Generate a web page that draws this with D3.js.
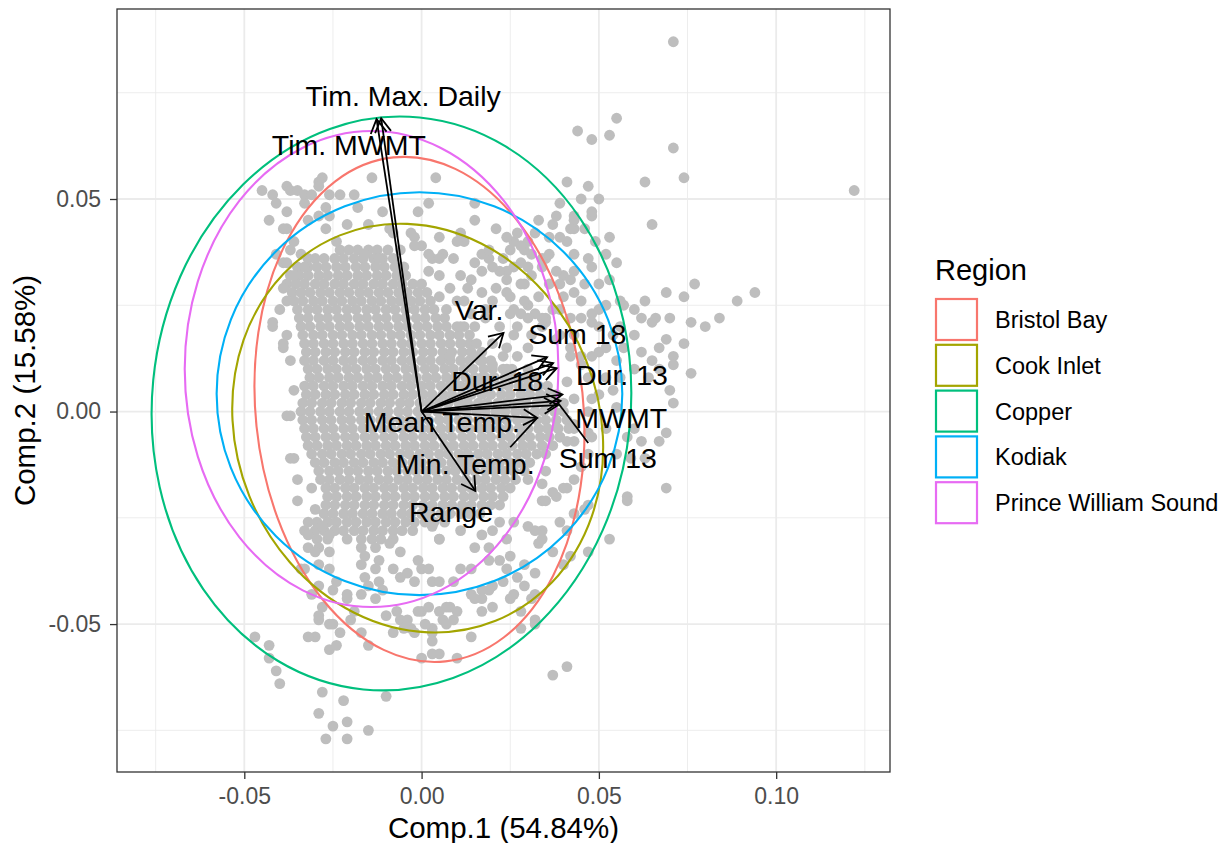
<!DOCTYPE html>
<html>
<head>
<meta charset="utf-8">
<script src="https://cdn.jsdelivr.net/npm/d3@7"></script>
<style>
body { margin: 0; background: #fff; }
svg text { font-family: "Liberation Sans", Arial, sans-serif; }
</style>
</head>
<body>
<svg id="chart" width="1227" height="843"></svg>
<script>
// PCA scores, in thousandths (Comp.1, Comp.2)
// dense part of the cloud, one row per Comp.2 value: [comp2, [comp1 ...]]
var denseRows = [
  [38, [-23,-20.5,-18,-15,-12.5,-9.5]],
  [36, [-30,-27.5,-24.5,-22,-19,-16.5,-13.5,-11,-8]],
  [34, [-35,-32,-29.5,-27,-24,-21.5,-18.5,-16,-13,-10.5,-7.5,-5]],
  [32, [-37,-34.5,-32,-29,-26.5,-23.5,-21,-18,-15.5,-12.5,-10,-7,-4.5]],
  [30, [-38,-35.5,-33,-30,-27.5,-24.5,-22,-19,-16.5,-13.5,-11,-8,-5.5,-2.5,0]],
  [28, [-36.5,-34,-31.5,-28.5,-26,-23,-20.5,-17.5,-15,-12,-9.5,-6.5,-4,-1,1.5]],
  [26, [-36,-33.5,-30.5,-28,-25,-22.5,-19.5,-17,-14,-11.5,-8.5,-6,-3,-0.5,2.5]],
  [24, [-35,-32,-29.5,-26.5,-24,-21,-18.5,-15.5,-13,-10,-7.5,-4.5,-2,1,3.5]],
  [22, [-34.5,-32,-29,-26.5,-23.5,-21,-18,-15.5,-12.5,-10,-7,-4.5,-1.5,1,4,6.5]],
  [20, [-34,-31.5,-28.5,-26,-23,-20.5,-17.5,-15,-12,-9.5,-6.5,-4,-1,1.5,4.5,7,10,12]],
  [18, [-33.5,-30.5,-28,-25,-22.5,-19.5,-17,-14,-11.5,-8.5,-6,-3,-0.5,2.5,5,8,10.5,13.5]],
  [16, [-33,-30.5,-27.5,-25,-22,-19.5,-16.5,-14,-11,-8.5,-5.5,-3,0,2.5,5.5,8,11,13.5,15.5]],
  [14, [-32.5,-30,-27,-24.5,-21.5,-19,-16,-13.5,-10.5,-8,-5,-2.5,0.5,3,6,8.5,11.5,14,17]],
  [12, [-33,-30.5,-27.5,-25,-22,-19.5,-16.5,-14,-11,-8.5,-5.5,-3,0,2.5,5.5,8,11,13.5,16.5,19.5]],
  [10, [-32,-29.5,-26.5,-24,-21,-18.5,-15.5,-13,-10,-7.5,-4.5,-2,1,3.5,6.5,9,12,14.5,17.5,20,23,25.5]],
  [8, [-31.5,-29,-26,-23.5,-20.5,-18,-15,-12.5,-9.5,-7,-4,-1.5,1.5,4,7,9.5,12.5,15,18,20.5,23.5,26,29,31.5]],
  [6, [-33,-30.5,-27.5,-25,-22,-19.5,-16.5,-14,-11,-8.5,-5.5,-3,0,2.5,5.5,8,11,13.5,16.5,19,22,24.5,27.5,30,33,35.5]],
  [4, [-32.5,-30,-27,-24.5,-21.5,-19,-16,-13.5,-10.5,-8,-5,-2.5,0.5,3,6,8.5,11.5,14,17,19.5,22.5,25,28,30.5,33.5,36,38]],
  [2, [-33.5,-31,-28,-25.5,-22.5,-20,-17,-14.5,-11.5,-9,-6,-3.5,-0.5,2,5,7.5,10.5,13,16,18.5,21.5,24,27,29.5,32.5,35,37.5,40]],
  [0, [-34,-31.5,-28.5,-26,-23,-20.5,-17.5,-15,-12,-9.5,-6.5,-4,-1,1.5,4.5,7,10,12.5,15.5,18,21,23.5,26.5,29,32,34.5,37.5,40]],
  [-2, [-33.5,-31,-28,-25.5,-22.5,-20,-17,-14.5,-11.5,-9,-6,-3.5,-0.5,2,5,7.5,10.5,13,16,18.5,21.5,24,27,29.5,32.5,35,38,41]],
  [-4, [-33,-30.5,-27.5,-25,-22,-19.5,-16.5,-14,-11,-8.5,-5.5,-3,0,2.5,5.5,8,11,13.5,16.5,19,22,24.5,27.5,30,33,35.5,38.5,41.5]],
  [-6, [-32.5,-30,-27,-24.5,-21.5,-19,-16,-13.5,-10.5,-8,-5,-2.5,0.5,3,6,8.5,11.5,14,17,19.5,22.5,25,28,30.5,33.5,36,39]],
  [-8, [-32,-29.5,-26.5,-24,-21,-18.5,-15.5,-13,-10,-7.5,-4.5,-2,1,3.5,6.5,9,12,14.5,17.5,20,23,25.5,28.5,31,34,37]],
  [-10, [-31,-28,-25.5,-22.5,-20,-17,-14.5,-11.5,-9,-6,-3.5,-0.5,2,5,7.5,10.5,13,16,18.5,21.5,24,27,29.5,32.5,35]],
  [-12, [-30,-27.5,-24.5,-22,-19,-16.5,-13.5,-11,-8,-5.5,-2.5,0,3,5.5,8.5,11,14,16.5,19.5,22,25,27.5,30.5]],
  [-14, [-29,-26,-23.5,-20.5,-18,-15,-12.5,-9.5,-7,-4,-1.5,1.5,4,7,9.5,12.5,15,18,20.5,23.5,26,29]],
  [-16, [-28.5,-26,-23,-20.5,-17.5,-15,-12,-9.5,-6.5,-4,-1,1.5,4.5,7,10,12.5,15.5,18,21,23.5,26.5]],
  [-18, [-27,-24.5,-21.5,-19,-16,-13.5,-10.5,-8,-5,-2.5,0.5,3,6,8.5,11.5,14,17,19.5,22.5,25]],
  [-20, [-26.5,-24,-21,-18.5,-15.5,-13,-10,-7.5,-4.5,-2,1,3.5,6.5,9,12,14.5,17.5,20,23]],
  [-22, [-27,-24.5,-21.5,-19,-16,-13.5,-10.5,-8,-5,-2.5,0.5,3,6,8.5,11.5,14,17,19.5,22]],
  [-24, [-27.5,-25,-22,-19.5,-16.5,-14,-11,-8.5,-5.5,-3,0,2.5,5.5,8,11,13.5,16.5]],
  [-26, [-32,-29.5,-26.5,-24,-21,-18.5,-15.5,-13,-10,-7.5,-4.5,-2,1,3.5,6.5]],
  [-28, [-33,-30,-27.5,-24.5,-22,-19,-16.5,-13.5,-11,-8,-5.5,-2.5]],
  [-30, [-29.5,-26.5,-21,-17,-14,-11.5,-8]]
];

// scattered points around the dense part: [comp1, comp2]
var loosePts = [
  [71,87],[55,69],[44,66],[48,64],[53,65],[71,62],[74,55],[63,54],[41,54],[122,52],[4,55],[39,49],
  [48,46],[43,45],[43,43],[65,44],[32,42],[36,41],[41,40],[49,40],[26,40],[25,38],[29,38],[35,36],
  [43,37],[28,35],[24,33],[40,32],[42,31],[29,30],[53,31],[24,28],[69,28],[74,27],[77,30],[89,26],
  [94,28],[52,25],[57,25],[48,23],[25,23],[28,23],[32,23],[35,22],[66,22],[62,22],[84,22],[76,21],
  [80,20],[69,17],[74,16],[76,9],[71,13],[65,12],[62,14],[55,12],[60,10],[54,18],[60,18],[50,14],
  [52,8],[56,8],[64,8],[67,10],[12,40],[11,42],[15,49],[15,45],[2,49],[-1,47],[-2,41],[5,41],
  [0,39],[3,36],[6,37],[15,35],[17,37],[22,33],[28,30],[30,34],[34,36],
  [-45,52],[-42,51],[-38,53],[-37,52],[-35,52],[-33,51],[-31,51],[-28,55],[-29,54],[-26,51],[-19,51],
  [-14,55],[-41,49],[-43,45],[-38,47],[-32,45],[-27,48],[-26,46],[-38,43],[-27,43],[-24,40],[-15,44],
  [-11,47],[-8,42],[-39,43],[-36,40],[-41,37],[-37,38],[-34,37],[-32,36],[-39,35],[-33,34],[-29,53],
  [-23,51],[-9,43],[-3,42],[-2,39],[-12,36],[-16,37],[-33,49],[-29,46],[-18,48],[-21,44],[-6,38],
  [10,40],[21,43],[31,37],[34,34],[31,32],[26,34],[20,34],[17,33],[11,32],[9,36],[5,36],[2,37],
  [2,33],[5,32],[19,36],[24,31],[21,29],[17,28],[13,29],[10,26],[5,27],[7,24],[20,26],[26,24],
  [30,25],[34,22],[37,24],[42,22],[43,28],[39,30],[43,33],[42,43],[43,46],[48,47],[47,36],[39,41],
  [36,37],[28,39],[24,41],[19,38],[47,53],[48,21],
  [18,22],[22,20],[26,18],[20,16],[17,12],[23,13],[27,20],[31,18],[29,26],[33,27],[36,30],[25,27],
  [18,24],[14,23],[12,26],[8,29],[14,31],[23,36],[27,42],[33,45],[30,40],[37,44],[38,33],[45,26],
  [40,27],[46,30],[50,30],[48,34],[52,37],[55,35],[53,41],[46,43],[50,50],[45,50],[38,46],
  [11,20],[15,20],[11,16],[8,13],[15,13],[24,15],[27,13],[30,15],[35,21],[39,18],[43,18],[45,13],
  [42,13],[30,10],[24,10],[20,11],[17,8],[47,8],[48,3],[47,0],[43,-4],[39,-6],[43,-7],[47,-5],
  [70,22],[65,21],[67,15],[71,11],[70,5],[71,2],[69,-5],[67,-7],[69,-18],[58,-20],[55,-10],[58,-6],
  [60,-4],[54,5],[55,1],[50,4],[52,-4],[48,-6],[47,-10],[45,-13],[43,-16],[40,-18],[37,-19],[34,-21],
  [34,-17],[35,-14],[41,-7],[43,-3],[43,3],[41,7],[45,11],[48,13],[52,15],[57,15],[42,15],[38,17],
  [34,20],[30,22],[39,24],[45,22],[50,24],[50,20],[56,20],[60,24],[63,26],[56,26],[62,-7],[63,-11],
  [59,-11],
  [53,-30],[47,-33],[35,-21],[38,-20],[41,-28],[46,-23],[41,-18],[34,-28],[30,-27],[33,-31],[37,-33],
  [40,-36],[32,-49],[28,-51],[41,-60],[37,-62],[14,-53],[10,-58],[3,-57],[0,-58],[3,-51],[22,-35],
  [19,-32],[25,-34],[17,-42],[14,-43],[10,-47],[8,-46],[6,-49],[0,-47],[-3,-51],[-6,-49],
  [30,-16],[32,-28],[34,-30],[26,-26],[22,-26],[20,-28],[24,-30],[15,-32],[17,-29],[11,-28],[5,-30],
  [3,-27],[39,-26],[43,-24],[47,-22],[42,-34],[58,-21],
  [-8,-37],[-6,-39],[-4,-38],[-2,-40],[0,-37],[-1,-35],[2,-37],[3,-40],[5,-40],[9,-40],[11,-37],
  [14,-37],[19,-35],[24,-37],[27,-39],[29,-41],[32,-43],[26,-43],[23,-40],[20,-41],[19,-42],[17,-44],
  [29,-36],[32,-38],
  [-10,-48],[-7,-47],[-4,-49],[-1,-47],[2,-46],[5,-47],[7,-46],[7,-50],[3,-52],[1,-50],[-5,-51],
  [-8,-52],[-2,-52],[3,-54],[9,-49],[15,-44],[17,-47],[20,-46],[25,-44],[28,-47],[31,-44],[32,-50],
  [5,-57],
  [-17,-32],[-13,-32],[-16,-34],[-12,-35],[-17,-36],[-13,-37],[-16,-39],[-12,-40],[-15,-41],[-11,-42],
  [-13,-44],[-17,-43],[-9,-31],[-6,-33],[5,-30],
  [-31,-43],[-28,-46],[-29,-49],[-26,-50],[-30,-53],[-23,-52],[-20,-49],[-19,-47],[-21,-44],[-17,-52],
  [-15,-55],[-32,-32],[-29,-32],[-33,-37],[-29,-36],[-26,-37],[-24,-40],[-25,-42],
  [-38,-1],[-36,-11],[-35,-16],[-31,-18],[-35,-21],[-30,-23],[-32,-29],[-28,-27],[-26,-29],[-30,-33],
  [-26,-33],[-34,-37],[-29,-41],[-21,-43],[-29,-48],[-25,-50],[-32,-53],[-26,-56],[-24,-55],
  [-47,-53],[-43,-55],[-43,-58],[-41,-61],[-40,-64],[-28,-66],[-22,-68],[-10,-67],[-29,-71],[-25,-74],
  [-21,-73],[-27,-77],[-21,-77],[-15,-75],
  [-42,21],[-38,18],[-39,15],[-37,12],[-38,26],[-39,29],[-36,32],[-38,35],[-37,-1],[-37,-11],[-36,5],
  [-40,24],[-42,20],[-39,16]
];

var regions = ["Bristol Bay", "Cook Inlet", "Copper", "Kodiak", "Prince William Sound"];
var regionColors = ["#F8766D", "#A3A500", "#00BF7D", "#00B0F6", "#E76BF3"];
// normal ellipses: centre, semi axes, tilt in degrees
var ellCx = [-0.0006, -0.0011, -0.0085, -0.0006, -0.0141];
var ellCy = [0.0005, -0.0039, 0.0019, 0.0042, 0.0100];
var ellA = [0.0462, 0.0512, 0.0675, 0.0572, 0.0527];
var ellB = [0.0596, 0.0489, 0.0676, 0.0474, 0.0560];
var ellTilt = [-5.9, -22, 5.6, 0, 0];

var varNames = ["Tim. Max. Daily", "Tim. MWMT", "Var.", "Sum 18", "Dur. 18", "Dur. 13",
                "MWMT", "Mean Temp.", "Min. Temp.", "Sum 13", "Range"];
var loadX = [-0.0127, -0.0114, 0.0231, 0.0354, 0.0371, 0.0381, 0.0397, 0.0326, 0.0392, 0.0385, 0.0152];
var loadY = [0.0688, 0.0690, 0.0185, 0.0128, 0.0114, 0.0102, 0.0040, -0.0015, 0.0025, 0.0015, -0.0187];
var labelX = [-0.0052, -0.0205, 0.0162, 0.0439, 0.0213, 0.0565, 0.0563, 0.0057, 0.0123, 0.0525, 0.0083];
var labelY = [0.0742, 0.0627, 0.0240, 0.0182, 0.0072, 0.0086, -0.0015, -0.0025, -0.0124, -0.0109, -0.0236];
// two short stray strokes next to the arrow heads
var extraSegs = [[0.0250, -0.0084, 0.0326, -0.0015], [0.0385, 0.0020, 0.0470, -0.0074]];

var xTicks = [-0.05, 0, 0.05, 0.10];
var yTicks = [-0.05, 0, 0.05];
var xMinor = [-0.075, -0.025, 0.025, 0.075, 0.125];
var yMinor = [-0.075, -0.025, 0.025, 0.075];

var scores = [];
denseRows.forEach(function(r) {
  r[1].forEach(function(v) { scores.push([v / 1000, r[0] / 1000]); });
});
loosePts.forEach(function(p) { scores.push([p[0] / 1000, p[1] / 1000]); });

var svg = d3.select("#chart");
var pLeft = 117, pRight = 890, pTop = 9, pBottom = 772;

var x = d3.scaleLinear().domain([-0.0859, 0.1321]).range([pLeft, pRight]);
var y = d3.scaleLinear().domain([-0.0848, 0.0947]).range([pBottom, pTop]);

// grid
var grid = svg.append("g");
grid.selectAll(".vmin").data(xMinor).enter().append("line")
  .attr("x1", x).attr("x2", x).attr("y1", pTop).attr("y2", pBottom)
  .attr("stroke", "#ebebeb").attr("stroke-width", 0.9);
grid.selectAll(".hmin").data(yMinor).enter().append("line")
  .attr("y1", y).attr("y2", y).attr("x1", pLeft).attr("x2", pRight)
  .attr("stroke", "#ebebeb").attr("stroke-width", 0.9);
grid.selectAll(".vmaj").data(xTicks).enter().append("line")
  .attr("x1", x).attr("x2", x).attr("y1", pTop).attr("y2", pBottom)
  .attr("stroke", "#ebebeb").attr("stroke-width", 1.8);
grid.selectAll(".hmaj").data(yTicks).enter().append("line")
  .attr("y1", y).attr("y2", y).attr("x1", pLeft).attr("x2", pRight)
  .attr("stroke", "#ebebeb").attr("stroke-width", 1.8);

// points
svg.append("g").selectAll("circle").data(scores).enter().append("circle")
  .attr("cx", function(d) { return x(d[0]); })
  .attr("cy", function(d) { return y(d[1]); })
  .attr("r", 5.4)
  .attr("fill", "#bebebe");

// ellipses
svg.append("g").selectAll("ellipse").data(regions).enter().append("ellipse")
  .attr("cx", function(d, i) { return x(ellCx[i]); })
  .attr("cy", function(d, i) { return y(ellCy[i]); })
  .attr("rx", function(d, i) { return x(ellA[i]) - x(0); })
  .attr("ry", function(d, i) { return y(0) - y(ellB[i]); })
  .attr("transform", function(d, i) {
    return "rotate(" + ellTilt[i] + "," + x(ellCx[i]) + "," + y(ellCy[i]) + ")";
  })
  .attr("fill", "none")
  .attr("stroke", function(d, i) { return regionColors[i]; })
  .attr("stroke-width", 2.1);

// arrows
var arrowHead = function(x0, y0, x1, y1) {
  var ang = Math.atan2(y1 - y0, x1 - x0);
  var len = 16, spread = Math.PI / 6;
  var p1 = [x1 - len * Math.cos(ang - spread), y1 - len * Math.sin(ang - spread)];
  var p2 = [x1 - len * Math.cos(ang + spread), y1 - len * Math.sin(ang + spread)];
  return "M" + p1 + "L" + x1 + "," + y1 + "L" + p2;
}

var arrows = svg.append("g").attr("stroke", "#000").attr("stroke-width", 1.8).attr("fill", "none");
varNames.forEach(function(name, i) {
  var x0 = x(0), y0 = y(0), x1 = x(loadX[i]), y1 = y(loadY[i]);
  arrows.append("line").attr("x1", x0).attr("y1", y0).attr("x2", x1).attr("y2", y1);
  arrows.append("path").attr("d", arrowHead(x0, y0, x1, y1));
});
extraSegs.forEach(function(s) {
  arrows.append("line").attr("x1", x(s[0])).attr("y1", y(s[1])).attr("x2", x(s[2])).attr("y2", y(s[3]));
});

svg.append("g").selectAll("text").data(varNames).enter().append("text")
  .attr("x", function(d, i) { return x(labelX[i]); })
  .attr("y", function(d, i) { return y(labelY[i]); })
  .attr("text-anchor", "middle")
  .attr("dominant-baseline", "central")
  .attr("font-size", 28.5)
  .attr("fill", "#000")
  .text(function(d) { return d; });

// panel border
svg.append("rect").attr("x", pLeft).attr("y", pTop)
  .attr("width", pRight - pLeft).attr("height", pBottom - pTop)
  .attr("fill", "none").attr("stroke", "#333").attr("stroke-width", 1.3);

// axes
var fmt = function(d) { return d.toFixed(2); };
var xAxis = svg.append("g").attr("transform", "translate(0," + pBottom + ")")
  .call(d3.axisBottom(x).tickValues(xTicks).tickFormat(fmt).tickSize(7).tickPadding(9));
var yAxis = svg.append("g").attr("transform", "translate(" + pLeft + ",0)")
  .call(d3.axisLeft(y).tickValues(yTicks).tickFormat(fmt).tickSize(7).tickPadding(9));
[xAxis, yAxis].forEach(function(a) {
  a.select(".domain").remove();
  a.selectAll("line").attr("stroke", "#333").attr("stroke-width", 1.3);
  a.selectAll("text").attr("fill", "#4d4d4d").attr("font-size", 23)
    .attr("font-family", "Liberation Sans, Arial, sans-serif");
});

svg.append("text").attr("x", (pLeft + pRight) / 2).attr("y", 838)
  .attr("text-anchor", "middle").attr("font-size", 29.5)
  .text("Comp.1 (54.84%)");
svg.append("text").attr("transform", "translate(35," + ((pTop + pBottom) / 2) + ") rotate(-90)")
  .attr("text-anchor", "middle").attr("font-size", 29.5)
  .text("Comp.2 (15.58%)");

// legend
var legend = svg.append("g").attr("transform", "translate(935,0)");
legend.append("text").attr("x", 0).attr("y", 280).attr("font-size", 29).text("Region");
var keys = legend.selectAll(".key").data(regions).enter().append("g")
  .attr("transform", function(d, i) { return "translate(0," + (298 + i * 45.8) + ")"; });
keys.append("rect").attr("x", 1).attr("y", 1).attr("width", 41).attr("height", 41)
  .attr("fill", "#fff")
  .attr("stroke", function(d, i) { return regionColors[i]; })
  .attr("stroke-width", 2.2);
keys.append("text").attr("x", 60).attr("y", 22).attr("dominant-baseline", "central")
  .attr("font-size", 23.5).text(function(d) { return d; });
</script>
</body>
</html>
